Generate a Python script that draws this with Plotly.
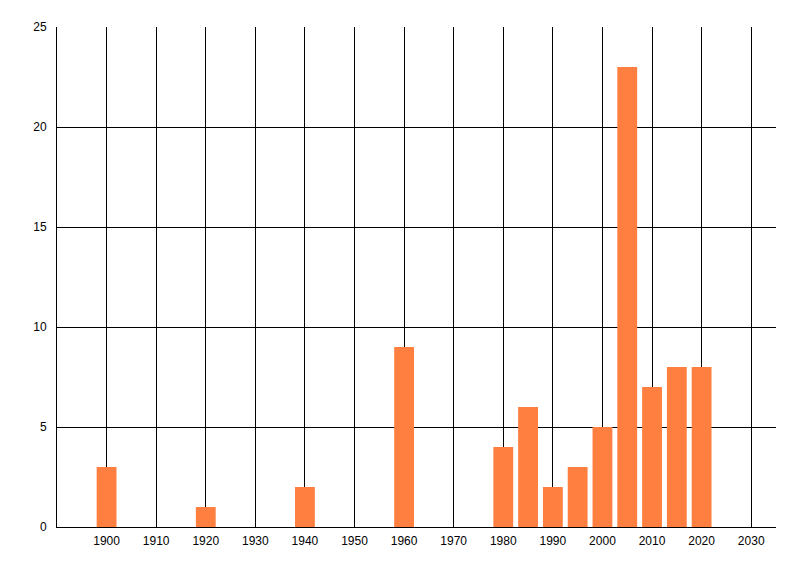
import plotly.graph_objects as go

anos = [1900, 1920, 1940, 1960, 1980, 1985, 1990, 1995, 2000, 2005, 2010, 2015, 2020]
qtd = [3, 1, 2, 9, 4, 6, 2, 3, 5, 23, 7, 8, 8]
ticks_x = list(range(1900, 2031, 10))
ticks_y = [0, 5, 10, 15, 20, 25]

fig = go.Figure(
    go.Bar(
        x=anos,
        y=qtd,
        width=4,
        marker=dict(color='#FF7F40', line=dict(width=0))
    )
)

fig.update_layout(
    width=800,
    height=576,
    margin=dict(l=49, r=32, t=19, b=57),
    paper_bgcolor='white',
    plot_bgcolor='white',
    showlegend=False,
    font=dict(family='Liberation Sans, Arial, sans-serif', size=12, color='black'),
)

fig.update_xaxes(
    range=[1890, 2035],
    tickvals=ticks_x,
    ticktext=[str(t) for t in ticks_x],
    showgrid=True,
    gridcolor='black',
    gridwidth=1,
    showline=True,
    linecolor='black',
    linewidth=1,
    zeroline=False,
    ticks='',
    ticklabelstandoff=3,
)

fig.update_yaxes(
    range=[0, 25],
    tickvals=ticks_y,
    showgrid=True,
    gridcolor='black',
    gridwidth=1,
    showline=True,
    linecolor='black',
    linewidth=1,
    zeroline=False,
    ticks='',
    ticklabelstandoff=7,
)

fig.write_html("out.html")
